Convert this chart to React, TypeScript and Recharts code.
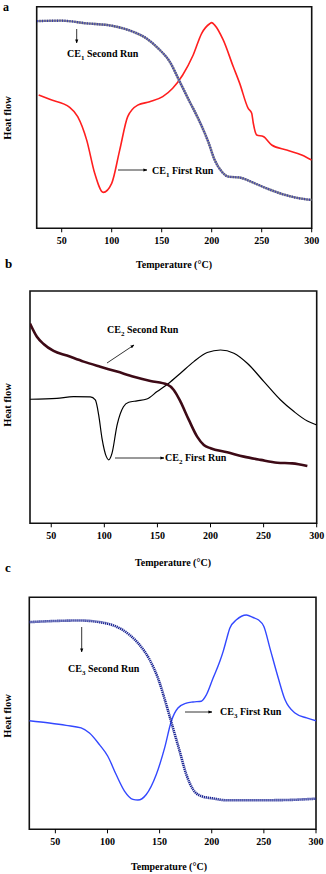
import { LineChart, Line, XAxis, YAxis, ReferenceArea } from 'recharts';

const tempTicks = [50, 100, 150, 200, 250, 300];

// heat flow is in arbitrary units, 0 = bottom of frame, 100 = top
// CE1
const ce1FirstT = [27, 38, 58, 66, 75, 83, 91.5, 100, 108, 116, 126, 138, 151, 161, 171, 181.5, 190, 198, 200, 203, 211.5, 221.5, 228, 236.5, 240, 241.6, 245, 251.6, 260, 275, 290, 300];
const ce1FirstHF = [60.2, 58.2, 54.6, 50.4, 39.8, 24.8, 16.2, 20.3, 35.3, 50.4, 55.6, 57.1, 59.4, 63.2, 69.2, 78.2, 88, 92.3, 92.8, 91.7, 85, 73, 65.4, 54.1, 51.9, 47.4, 42.1, 41.4, 37.6, 35.3, 33.1, 30.8];
const ce1SecondT = [25.3, 50, 74.7, 101.4, 121.4, 134.8, 146.5, 158, 168, 178, 188, 196.5, 203, 210, 216.6, 228, 241.6, 255, 271.6, 288, 300];
const ce1SecondHF = [93.5, 93.7, 92.5, 91.3, 88.7, 85.7, 81.2, 75.2, 66.2, 57.1, 48.1, 39.1, 30.8, 25.6, 23.3, 22.9, 20.6, 18, 15.3, 13.5, 12.8];

// CE2
const ce2FirstT = [30, 55.3, 71, 86.8, 91.5, 94.7, 97.8, 101.9, 104, 107.2, 112, 118, 123, 130.8, 140, 149.7, 160.7, 171.7, 184.3, 196.9, 209.4, 222, 234.6, 250.3, 266, 278.6, 291.2, 300];
const ce2FirstHF = [53.4, 53.8, 54.5, 54.4, 53.1, 46.6, 36.6, 28.7, 27.3, 30.1, 42.3, 50.2, 52.1, 52.7, 53.5, 56.7, 60.3, 64.6, 69.6, 73.5, 74.6, 73.2, 68.9, 61, 53.1, 48.1, 44, 42.3];
const ce2SecondT = [30, 36.5, 42.8, 52.2, 64.8, 80.5, 96.2, 112, 127.7, 143.4, 159.1, 165.4, 171.7, 179.6, 187.4, 193.7, 200, 215.7, 231.4, 247.2, 262.9, 277, 291.2];
const ce2SecondHF = [86, 80.3, 77.2, 74.2, 72.2, 69.6, 67.4, 65.3, 63.1, 61.3, 59.8, 57.4, 52.4, 44.5, 37.3, 33.7, 32.3, 30.6, 28.7, 27.3, 26.1, 25.8, 24.7];

// CE3
const ce3FirstT = [25, 44.2, 60.3, 74.7, 82.7, 92.3, 100.3, 108.3, 116.3, 124.4, 129.2, 137.2, 146.8, 154.8, 161.2, 167.6, 175.6, 182, 190, 194.9, 201.3, 207.7, 210.9, 214.1, 217.3, 223.7, 233.3, 239.7, 244.6, 250, 255.8, 263.8, 270.2, 279.8, 291, 300];
const ce3FirstHF = [46.8, 45.8, 44.8, 43.7, 41.5, 36.5, 31.5, 23.6, 16.5, 12.9, 12.6, 15, 23.6, 35.1, 46.6, 52.3, 54.4, 54.9, 55.2, 58, 65.2, 72.3, 76.6, 81.7, 86.7, 90.3, 92.4, 91.3, 90.3, 87.4, 78.1, 65.2, 55.9, 50.1, 48, 46.8];
const ce3SecondT = [25, 50, 73, 92.3, 108.3, 121.2, 130.8, 140.4, 148.4, 156.4, 162.8, 169.2, 175.6, 182, 190, 201.3, 214.1, 236.5, 268.6, 300];
const ce3SecondHF = [89.3, 89.8, 90, 89.3, 87.4, 83.8, 79.5, 73.1, 65.2, 53.7, 43.7, 33.7, 23.6, 17.2, 14.3, 13.3, 12.5, 12.5, 12.6, 13.2];

const zip = (t: number[], hf: number[]) => t.map((x, i) => ({ t: x, hf: hf[i] }));

const FONT = "'Liberation Serif', 'DejaVu Serif', serif";
const W = 326;

interface PanelProps {
  top: number;
  height: number;
  plotTop: number;
  plotBottom: number;
  plotLeft: number;
  plotRight: number;
  xMin: number;
  children: React.ReactNode;
}

function Panel({ top, height, plotTop, plotBottom, plotLeft, plotRight, xMin, children }: PanelProps) {
  return (
    <div style={{ position: 'absolute', left: 0, top }}>
      <LineChart
        width={W}
        height={height}
        margin={{ top: plotTop - top, left: plotLeft, right: W - plotRight, bottom: 0 }}
      >
        <XAxis
          dataKey="t"
          type="number"
          domain={[xMin, 300]}
          ticks={tempTicks}
          allowDataOverflow
          height={top + height - plotBottom}
          axisLine={false}
          tickSize={4}
          tickMargin={5}
          tickLine={{ stroke: '#000', strokeWidth: 1 }}
          tick={{ fill: '#000', fontSize: 10, fontWeight: 'bold', fontFamily: FONT }}
        />
        <YAxis hide type="number" domain={[0, 100]} allowDataOverflow />
        <ReferenceArea x1={xMin} x2={300} y1={0} y2={100} fill="none" stroke="#111" strokeWidth={1.6} ifOverflow="visible" />
        {children}
      </LineChart>
    </div>
  );
}

function Sub({ n, label }: { n: string; label: string }) {
  return (
    <>
      CE
      <tspan fontSize={7} dy={3}>{n}</tspan>
      <tspan dy={-3}>{label}</tspan>
    </>
  );
}

export default function App() {
  const textStyle = { fontFamily: FONT, fontWeight: 'bold' as const, fill: '#000' };
  return (
    <div style={{ position: 'absolute', left: 0, top: 0, width: W, height: 874, background: '#fff' }}>
      <Panel top={0} height={255} plotTop={6.7} plotBottom={228.3} plotLeft={36.7} plotRight={311.7} xMin={25}>
        <Line data={zip(ce1FirstT, ce1FirstHF)} dataKey="hf" type="monotone" stroke="#ff1f1f" strokeWidth={1.6} dot={false} isAnimationActive={false} />
        <Line data={zip(ce1SecondT, ce1SecondHF)} dataKey="hf" type="monotone" stroke="#8a8c8c" strokeWidth={2.4} dot={false} isAnimationActive={false} />
        <Line data={zip(ce1SecondT, ce1SecondHF)} dataKey="hf" type="monotone" stroke="#3b3bb0" strokeWidth={2.4} strokeDasharray="1 1.5" dot={false} isAnimationActive={false} />
      </Panel>

      <Panel top={285} height={260} plotTop={291} plotBottom={523.3} plotLeft={30} plotRight={316.7} xMin={30}>
        <Line data={zip(ce2FirstT, ce2FirstHF)} dataKey="hf" type="monotone" stroke="#000" strokeWidth={1.2} dot={false} isAnimationActive={false} />
        <Line data={zip(ce2SecondT, ce2SecondHF)} dataKey="hf" type="monotone" stroke="#3d0a16" strokeWidth={2.6} dot={false} isAnimationActive={false} />
      </Panel>

      <Panel top={590} height={265} plotTop={597.3} plotBottom={829.3} plotLeft={29.3} plotRight={316} xMin={25}>
        <Line data={zip(ce3FirstT, ce3FirstHF)} dataKey="hf" type="monotone" stroke="#3348ff" strokeWidth={1.4} dot={false} isAnimationActive={false} />
        <Line data={zip(ce3SecondT, ce3SecondHF)} dataKey="hf" type="monotone" stroke="#1b2594" strokeWidth={2.6} strokeDasharray="1.3 0.7" dot={false} isAnimationActive={false} />
      </Panel>

      <svg width={W} height={874} style={{ position: 'absolute', left: 0, top: 0, pointerEvents: 'none' }}>
        <defs>
          <marker id="head" viewBox="0 0 10 10" refX="9" refY="5" markerWidth="5" markerHeight="5" orient="auto">
            <path d="M0,1 L10,5 L0,9 z" fill="#000" />
          </marker>
        </defs>
        <g style={textStyle}>
          {/* panel a */}
          <text x={3} y={11} fontSize={12}>a</text>
          <text x={11} y={118} fontSize={10.5} textAnchor="middle" transform="rotate(-90 11 118)">Heat  flow</text>
          <text x={174} y={268} fontSize={10} textAnchor="middle">Temperature (°C)</text>
          <text x={67} y={57} fontSize={10}><Sub n="1" label=" Second Run" /></text>
          <text x={152} y={174} fontSize={10}><Sub n="1" label=" First Run" /></text>

          {/* panel b */}
          <text x={5} y={268} fontSize={13}>b</text>
          <text x={11} y={405} fontSize={10.5} textAnchor="middle" transform="rotate(-90 11 405)">Heat flow</text>
          <text x={173} y={566} fontSize={10} textAnchor="middle">Temperature (°C)</text>
          <text x={107} y={333} fontSize={10}><Sub n="2" label=" Second Run" /></text>
          <text x={165} y={461} fontSize={10}><Sub n="2" label=" First Run" /></text>

          {/* panel c */}
          <text x={5} y={572} fontSize={13}>c</text>
          <text x={11} y={716} fontSize={10.5} textAnchor="middle" transform="rotate(-90 11 716)">Heat flow</text>
          <text x={169} y={870} fontSize={10} textAnchor="middle">Temperature (°C)</text>
          <text x={68} y={672} fontSize={10}><Sub n="3" label=" Second Run" /></text>
          <text x={220} y={715} fontSize={10}><Sub n="3" label=" First Run" /></text>
        </g>
        <g stroke="#000" strokeWidth={0.8} markerEnd="url(#head)">
          <line x1={76.7} y1={29} x2={76.7} y2={43} />
          <line x1={118} y1={170} x2={147} y2={170} />
          <line x1={107} y1={363} x2={134} y2={345} />
          <line x1={115} y1={458} x2={164} y2={458} />
          <line x1={81.7} y1={627} x2={81.7} y2={652} />
          <line x1={185} y1={712} x2={212} y2={712} />
        </g>
      </svg>
    </div>
  );
}
